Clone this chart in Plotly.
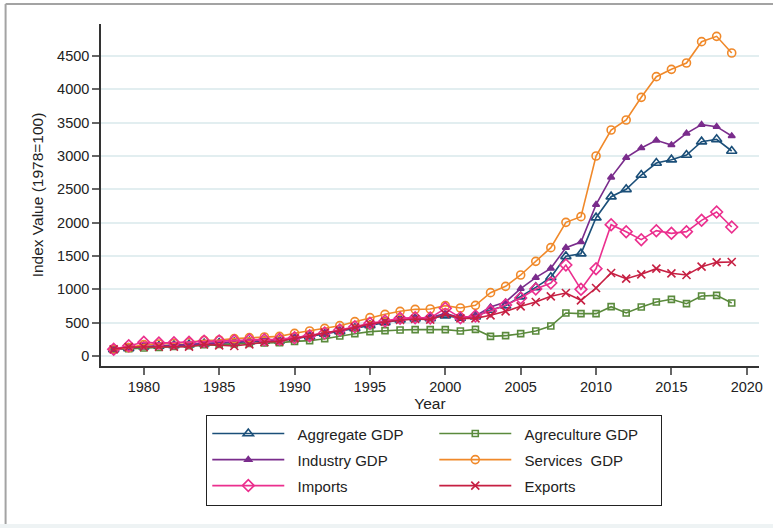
import plotly.graph_objects as go

# Index values, 1978 = 100
years = list(range(1978, 2020))

aggregate_gdp = [100, 115, 140, 150, 160, 170, 185, 195, 205, 215, 225, 230, 260, 290,
                 330, 370, 415, 460, 505, 545, 560, 565, 605, 570, 590, 690, 755, 890,
                 1030, 1180, 1495, 1535, 2075, 2390, 2500, 2715, 2895, 2945, 3015, 3215,
                 3250, 3075]
agriculture_gdp = [100, 110, 120, 130, 145, 155, 170, 175, 180, 190, 195, 200, 220, 230,
                   260, 300, 335, 365, 380, 390, 395, 395, 395, 375, 400, 295, 305, 335,
                   375, 450, 645, 635, 635, 740, 645, 735, 810, 850, 785, 900, 910, 795]
industry_gdp = [100, 115, 145, 150, 160, 170, 185, 200, 210, 220, 235, 240, 270, 300,
                340, 385, 430, 475, 515, 555, 570, 575, 640, 575, 600, 735, 810, 1010,
                1175, 1315, 1625, 1710, 2270, 2680, 2975, 3120, 3235, 3165, 3340, 3470,
                3440, 3300]
services_gdp = [100, 125, 170, 180, 190, 205, 235, 240, 260, 275, 285, 295, 340, 375,
                415, 455, 515, 575, 625, 670, 700, 705, 755, 720, 760, 950, 1045, 1215,
                1420, 1625, 2005, 2090, 3000, 3390, 3540, 3880, 4190, 4300, 4395, 4715,
                4795, 4545]
imports = [100, 155, 205, 195, 200, 205, 220, 225, 230, 240, 245, 250, 275, 305,
           345, 390, 440, 490, 525, 565, 575, 570, 715, 575, 600, 675, 765, 870,
           1005, 1095, 1365, 1000, 1310, 1970, 1865, 1745, 1880, 1840, 1865, 2035,
           2160, 1935]
exports = [100, 135, 135, 140, 140, 140, 175, 160, 150, 175, 210, 220, 265, 295,
           350, 380, 430, 480, 515, 540, 555, 545, 630, 565, 565, 610, 670, 745,
           810, 895, 945, 835, 1020, 1245, 1160, 1225, 1310, 1240, 1215, 1340,
           1405, 1410]

x_ticks = [1980, 1985, 1990, 1995, 2000, 2005, 2010, 2015, 2020]
y_ticks = [0, 500, 1000, 1500, 2000, 2500, 3000, 3500, 4000, 4500]

series = [
    ("Aggregate GDP", aggregate_gdp, "#1b4f79", "triangle-up-open", 9),
    ("Agreculture GDP", agriculture_gdp, "#5a8a3c", "square-open", 6),
    ("Industry GDP", industry_gdp, "#7a2c8c", "triangle-up", 6),
    ("Services\u00a0 GDP", services_gdp, "#f0892a", "circle-open", 8),
    ("Imports", imports, "#eb2f8e", "diamond-open", 9),
    ("Exports", exports, "#c61f42", "x-thin-open", 8),
]

FONT = "Liberation Sans, Arial, sans-serif"

fig = go.Figure()
for name, vals, color, symbol, size in series:
    fig.add_trace(go.Scatter(
        x=years, y=vals, mode="lines+markers",
        name="<span style='font-size:15px'>\u00a0\u00a0" + name + "</span>",
        line=dict(color=color, width=1.6),
        marker=dict(symbol=symbol, size=size, color=color,
                    line=dict(color=color, width=1.6)),
    ))

# outer frame of the figure
fig.add_shape(type="line", xref="paper", yref="paper",
              x0=-0.145, x1=1.05, y0=1.0585, y1=1.0585,
              line=dict(color="#a3a3a3", width=2))
fig.add_shape(type="line", xref="paper", yref="paper",
              x0=-0.145, x1=-0.145, y0=1.0585, y1=-0.462,
              line=dict(color="#a3a3a3", width=2))
fig.add_shape(type="rect", xref="paper", yref="paper",
              x0=-0.16, x1=1.05, y0=-0.462, y1=-0.48,
              line=dict(width=0), fillcolor="#eef3f4", layer="below")

fig.update_layout(
    width=773, height=528,
    margin=dict(l=101, r=10, t=24, b=162),
    paper_bgcolor="white", plot_bgcolor="white",
    font=dict(family=FONT, size=14.5, color="#222222"),
    showlegend=True,
    legend=dict(
        orientation="h", x=0.16, y=-0.142, xanchor="left", yanchor="top",
        bordercolor="#222222", borderwidth=1, bgcolor="white",
        font=dict(size=17.7, family=FONT, color="#222222"),
        itemwidth=72, entrywidth=140, entrywidthmode="pixels",
        traceorder="normal",
    ),
    xaxis=dict(
        range=[1977.16, 2020.81], tickvals=x_ticks,
        showgrid=False, zeroline=False,
        showline=True, linecolor="#333333", linewidth=1.5,
        ticks="outside", ticklen=7, tickcolor="#666666", tickwidth=1.5,
        title=dict(text="Year", standoff=3, font=dict(size=15.5)),
    ),
    yaxis=dict(
        range=[-150, 4980], tickvals=y_ticks,
        showgrid=True, gridcolor="#e2eef0", gridwidth=1.5, zeroline=False,
        showline=True, linecolor="#333333", linewidth=1.5,
        ticks="outside", ticklen=7, tickcolor="#666666", tickwidth=1.5,
        title=dict(text="Index Value (1978=100)", standoff=10, font=dict(size=15.5)),
    ),
)

fig.write_html("out.html")
